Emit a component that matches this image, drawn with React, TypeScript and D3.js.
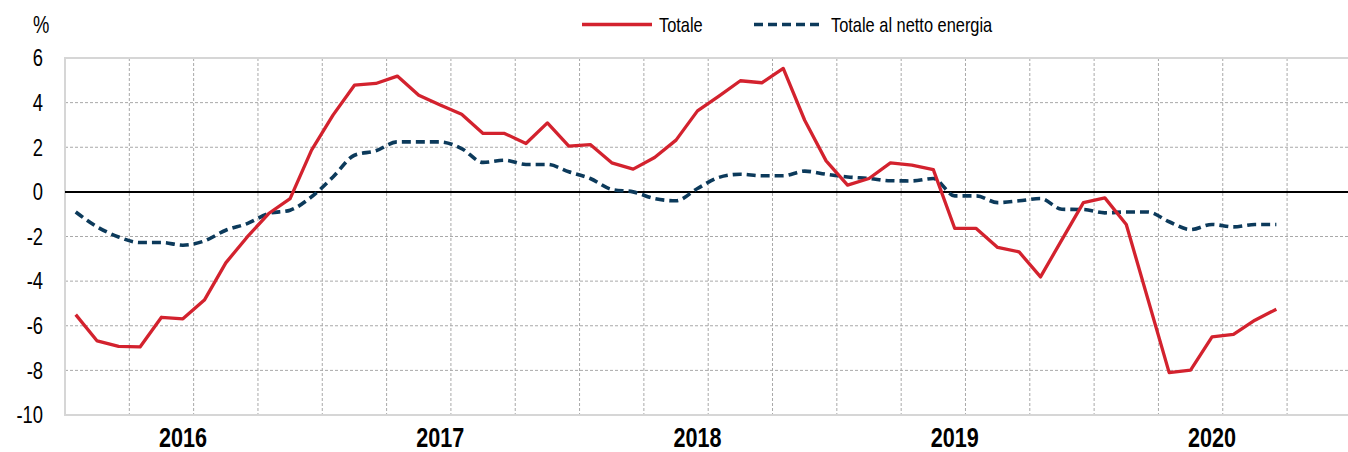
import type { ReactNode } from 'react'
import { line, curveLinear, curveMonotoneX, range, scaleLinear, timeMonth } from 'd3'

type Point = {
  readonly index: number
  readonly value: number
}

// monthly categories: Aug 2015 .. Jul 2020 (60 slots, data ends Apr 2020)
const months = timeMonth.range(new Date(2015, 7, 1), new Date(2020, 7, 1))

const yearLabels = ['2016', '2017', '2018', '2019', '2020']

const yTicks = [6, 4, 2, 0, -2, -4, -6, -8, -10]

const totale = [
  -5.5, -6.68, -6.92, -6.95, -5.62, -5.69, -4.85, -3.18, -2.02, -0.97,
  -0.3, 1.87, 3.44, 4.78, 4.86, 5.19, 4.33, 3.89, 3.48, 2.62,
  2.62, 2.17, 3.09, 2.05, 2.12, 1.3, 1.02, 1.54, 2.32, 3.63,
  4.29, 4.98, 4.89, 5.53, 3.21, 1.39, 0.3, 0.6, 1.3, 1.2,
  1.0, -1.64, -1.64, -2.49, -2.69, -3.81, -2.14, -0.48, -0.27, -1.46,
  -4.78, -8.1, -7.99, -6.5, -6.39, -5.75, -5.26,
]

const nettoEnergia = [
  -0.9, -1.57, -2.02, -2.27, -2.27, -2.39, -2.2, -1.72, -1.42, -0.97,
  -0.82, -0.22, 0.67, 1.64, 1.84, 2.24, 2.24, 2.24, 1.94, 1.32,
  1.42, 1.23, 1.23, 0.9, 0.6, 0.11, 0.0, -0.3, -0.4, 0.15,
  0.65, 0.79, 0.72, 0.72, 0.93, 0.79, 0.67, 0.6, 0.5, 0.49,
  0.6, -0.18, -0.18, -0.48, -0.4, -0.3, -0.78, -0.79, -0.94, -0.9,
  -0.9, -1.34, -1.69, -1.46, -1.57, -1.46, -1.46,
]

const RED = '#d3222e'
const NAVY = '#0c3a5b'
const FONT = '"Liberation Sans", Arial, sans-serif'
// reference uses a condensed face; squeeze the regular one horizontally
const SQUEEZE = 0.8

function toPoints(values: readonly number[]): Point[] {
  return values.map((value, index) => ({ index, value }))
}

type NarrowTextProps = {
  readonly x: number
  readonly y: number
  readonly size: number
  readonly anchor?: 'start' | 'middle' | 'end'
  readonly bold?: boolean
  readonly dy?: string
  readonly children: ReactNode
}

function NarrowText({ x, y, size, anchor = 'start', bold = false, dy, children }: NarrowTextProps) {
  return (
    <text
      transform={`translate(${x},${y}) scale(${SQUEEZE},1)`}
      dy={dy}
      textAnchor={anchor}
      fontSize={size}
      fontWeight={bold ? 'bold' : 'normal'}
      fill="#000"
    >
      {children}
    </text>
  )
}

export default function App() {
  const width = 1348
  const height = 452
  const left = 65
  const slot = 21.44
  const top = 58
  const bottom = 415

  const xScale = scaleLinear()
    .domain([0, months.length])
    .range([left, left + months.length * slot])
  const yScale = scaleLinear().domain([-10, 6]).range([bottom, top])
  const right = xScale(months.length)

  const lineFor = (curve: typeof curveLinear) =>
    line<Point>()
      .x((point) => xScale(point.index + 0.5))
      .y((point) => yScale(point.value))
      .curve(curve)

  const redPath = lineFor(curveLinear)(toPoints(totale)) ?? ''
  const navyPath = lineFor(curveMonotoneX)(toPoints(nettoEnergia)) ?? ''

  const quarterLines = range(3, months.length, 3)
  const januaryIndexes = months
    .map((month, index) => (month.getMonth() === 0 ? index : -1))
    .filter((index) => index >= 0)

  return (
    <svg
      width={width}
      height={height}
      style={{ position: 'absolute', left: 0, top: 0, background: '#fff' }}
      fontFamily={FONT}
    >
      {/* grid */}
      {yTicks
        .filter((tick) => tick !== 6 && tick !== -10 && tick !== 0)
        .map((tick) => (
          <line
            key={`h${tick}`}
            x1={left}
            x2={right}
            y1={yScale(tick)}
            y2={yScale(tick)}
            stroke="#a9a9a9"
            strokeWidth={1}
            strokeDasharray="3 2"
          />
        ))}
      {quarterLines.map((index) => (
        <line
          key={`v${index}`}
          x1={xScale(index)}
          x2={xScale(index)}
          y1={top}
          y2={bottom}
          stroke="#a9a9a9"
          strokeWidth={1}
          strokeDasharray="3 2"
        />
      ))}
      <rect
        x={left}
        y={top}
        width={right - left}
        height={bottom - top}
        fill="none"
        stroke="#d6d6d6"
        strokeWidth={2}
      />
      <line x1={left} x2={right} y1={yScale(0)} y2={yScale(0)} stroke="#000" strokeWidth={2} />

      {/* y axis */}
      {yTicks.map((tick) => (
        <NarrowText key={`t${tick}`} x={43} y={yScale(tick)} dy="0.36em" anchor="end" size={23}>
          {tick}
        </NarrowText>
      ))}
      <NarrowText x={33} y={33} size={23}>
        %
      </NarrowText>

      {/* x axis years */}
      {januaryIndexes.map((index, i) => (
        <NarrowText key={`y${index}`} x={xScale(index + 0.5)} y={447} anchor="middle" size={27} bold>
          {yearLabels[i]}
        </NarrowText>
      ))}

      {/* series */}
      <path d={navyPath} fill="none" stroke={NAVY} strokeWidth={3.6} strokeDasharray="9 5" />
      <path d={redPath} fill="none" stroke={RED} strokeWidth={3.3} strokeLinejoin="round" />

      {/* legend */}
      <line x1={582} x2={652} y1={24.5} y2={24.5} stroke={RED} strokeWidth={3.3} />
      <NarrowText x={659} y={32} size={20.5}>
        Totale
      </NarrowText>
      <line
        x1={754}
        x2={823}
        y1={24.5}
        y2={24.5}
        stroke={NAVY}
        strokeWidth={3.6}
        strokeDasharray="9 5"
      />
      <NarrowText x={831} y={32} size={20.5}>
        Totale al netto energia
      </NarrowText>
    </svg>
  )
}
